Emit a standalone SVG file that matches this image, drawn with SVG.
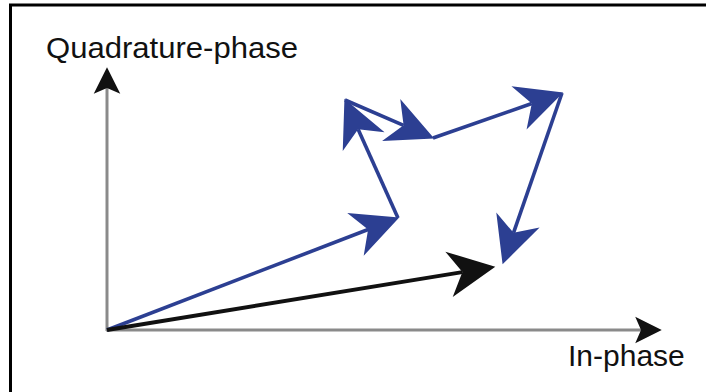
<svg xmlns="http://www.w3.org/2000/svg" width="706" height="392" viewBox="0 0 706 392">
<style>
.axis{stroke:#8a8a8a;stroke-width:3;fill:none}
.blue{stroke:#2c3f92;stroke-width:3.6;fill:none;marker-end:url(#hb)}
.black{stroke:#111;stroke-width:4;fill:none;marker-end:url(#hk)}
.lbl{font-family:"Liberation Sans",Arial,sans-serif;font-size:30px;fill:#111}
</style>
<defs>
<marker id="hb" markerUnits="userSpaceOnUse" markerWidth="50" markerHeight="50" viewBox="-46 -24 48 48" refX="-32" refY="0" orient="auto">
<path d="M0,0 L-45,-22 L-32,0 L-45,22 Z" fill="#2c3f92"/>
</marker>
<marker id="hk" markerUnits="userSpaceOnUse" markerWidth="50" markerHeight="50" viewBox="-46 -24 48 48" refX="-32" refY="0" orient="auto">
<path d="M0,0 L-45,-22 L-32,0 L-45,22 Z" fill="#111"/>
</marker>
<marker id="ha" markerUnits="userSpaceOnUse" markerWidth="30" markerHeight="30" viewBox="-24 -13 26 26" refX="-18" refY="0" orient="auto">
<path d="M0,0 L-23,-11.5 L-18,0 L-23,11.5 Z" fill="#111"/>
</marker>
</defs>
<rect x="10.5" y="5" width="800" height="500" fill="none" stroke="#000" stroke-width="3"/>
<g id="axes">
<line class="axis" x1="107" y1="331" x2="107" y2="88" marker-end="url(#ha)"/>
<line class="axis" x1="106" y1="330" x2="641" y2="330" marker-end="url(#ha)"/>
</g>
<g id="labels">
<text id="q-label" class="lbl" x="46" y="58" textLength="252" lengthAdjust="spacingAndGlyphs">Quadrature-phase</text>
<text id="i-label" class="lbl" x="568" y="366">In-phase</text>
</g>
<g id="connectors">
<line class="blue" x1="107" y1="330" x2="368.1" y2="229.5"/>
<line class="blue" x1="398" y1="218" x2="358.1" y2="129.2"/>
<line class="blue" x1="345" y1="100" x2="403.6" y2="125.3"/>
<line class="blue" x1="433" y1="138" x2="531.8" y2="103.5"/>
<line class="blue" x1="562" y1="93" x2="513.5" y2="232.8"/>
<line class="black" x1="107" y1="330" x2="462.4" y2="272.1"/>
</g>
</svg>
